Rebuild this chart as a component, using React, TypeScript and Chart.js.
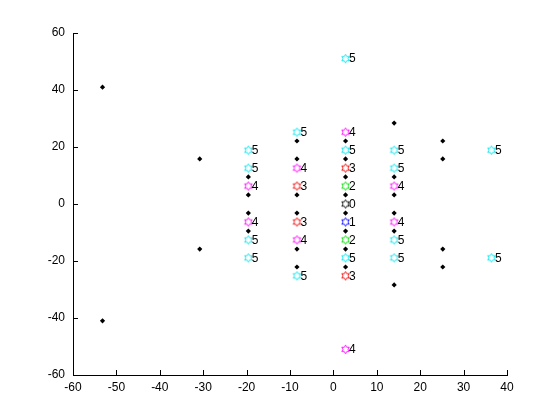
import React, { useEffect, useRef } from "react";
import { Chart, registerables } from "chart.js";

Chart.register(...registerables);

// Black dot markers
const dotX = [
  -53.2, -53.2,
  -30.8, -30.8,
  -19.6, -19.6, -19.6, -19.6,
  -8.4, -8.4, -8.4, -8.4, -8.4, -8.4,
  2.8, 2.8, 2.8, 2.8, 2.8, 2.8, 2.8, 2.8,
  14.0, 14.0, 14.0, 14.0, 14.0, 14.0,
  25.2, 25.2, 25.2, 25.2,
];
const dotY = [
  41, -41,
  15.8, -15.8,
  9.5, 3.2, -3.2, -9.5,
  22.1, 15.8, 3.2, -3.2, -15.8, -22.1,
  22.1, 15.8, 9.5, 3.2, -3.2, -9.5, -15.8, -22.1,
  28.4, 9.5, 3.2, -3.2, -9.5, -28.4,
  22.1, 15.8, -15.8, -22.1,
];

// Hexagram markers with their numeric labels
const starX = [
  -19.6, -19.6, -19.6, -19.6, -19.6, -19.6,
  -8.4, -8.4, -8.4, -8.4, -8.4, -8.4,
  2.8, 2.8, 2.8, 2.8, 2.8, 2.8, 2.8, 2.8, 2.8, 2.8, 2.8,
  14.0, 14.0, 14.0, 14.0, 14.0, 14.0,
  36.4, 36.4,
];
const starY = [
  18.9, 12.6, 6.3, -6.3, -12.6, -18.9,
  25.2, 12.6, 6.3, -6.3, -12.6, -25.2,
  51, 25.2, 18.9, 12.6, 6.3, 0, -6.3, -12.6, -18.9, -25.2, -51,
  18.9, 12.6, 6.3, -6.3, -12.6, -18.9,
  18.9, -18.9,
];
const starLabel = [
  5, 5, 4, 4, 5, 5,
  5, 4, 3, 3, 4, 5,
  5, 4, 5, 3, 2, 0, 1, 2, 5, 3, 4,
  5, 5, 4, 4, 5, 5,
  5, 5,
];

const labelColors = ["#000000", "#0000ff", "#00dd00", "#ee0000", "#ff00ff", "#00e5ee"];

const xTicks = [-60, -50, -40, -30, -20, -10, 0, 10, 20, 30, 40];
const yTicks = [-60, -40, -20, 0, 20, 40, 60];

function makeHexagram(color: string): HTMLCanvasElement {
  const c = document.createElement("canvas");
  const size = 11;
  c.width = size;
  c.height = size;
  const g = c.getContext("2d")!;
  const cx = size / 2;
  const cy = size / 2;
  const R = 4.3;
  const r = R / Math.sqrt(3);
  g.beginPath();
  for (let i = 0; i < 12; i++) {
    const a = -Math.PI / 2 + (i * Math.PI) / 6;
    const rad = i % 2 === 0 ? R : r;
    const px = cx + rad * Math.cos(a);
    const py = cy + rad * Math.sin(a);
    if (i === 0) g.moveTo(px, py);
    else g.lineTo(px, py);
  }
  g.closePath();
  g.strokeStyle = color;
  g.lineWidth = 0.9;
  g.stroke();
  return c;
}

const FONT = "'Liberation Sans', Arial, Helvetica, sans-serif";

export default function App() {
  const ref = useRef<HTMLCanvasElement | null>(null);

  useEffect(() => {
    if (!ref.current) return;
    const images = labelColors.map((c) => makeHexagram(c));

    const innerTicks = {
      id: "innerTicks",
      afterDraw(chart: any) {
        const { ctx, chartArea, scales } = chart;
        ctx.save();
        ctx.strokeStyle = "#000";
        ctx.lineWidth = 1;
        ctx.beginPath();
        xTicks.forEach((v) => {
          const px = Math.round(scales.x.getPixelForValue(v)) + 0.5;
          ctx.moveTo(px, chartArea.bottom);
          ctx.lineTo(px, chartArea.bottom - 5);
        });
        yTicks.forEach((v) => {
          const py = Math.round(scales.y.getPixelForValue(v)) + 0.5;
          ctx.moveTo(chartArea.left, py);
          ctx.lineTo(chartArea.left + 5, py);
        });
        ctx.stroke();
        ctx.restore();
      },
    };

    const starLabels = {
      id: "starLabels",
      afterDatasetsDraw(chart: any) {
        const meta = chart.getDatasetMeta(1);
        const { ctx } = chart;
        ctx.save();
        ctx.fillStyle = "#000";
        ctx.font = `12px ${FONT}`;
        ctx.textAlign = "left";
        ctx.textBaseline = "middle";
        meta.data.forEach((el: any, i: number) => {
          ctx.fillText(String(starLabel[i]), el.x + 3.5, el.y + 0.5);
        });
        ctx.restore();
      },
    };

    const chart = new Chart(ref.current, {
      type: "scatter",
      data: {
        datasets: [
          {
            data: dotX.map((x, i) => ({ x, y: dotY[i] })),
            pointStyle: "rectRot",
            pointRadius: 2.6,
            backgroundColor: "#000",
            borderColor: "#000",
            borderWidth: 0,
          },
          {
            data: starX.map((x, i) => ({ x, y: starY[i] })),
            pointStyle: (ctx: any) => images[starLabel[ctx.dataIndex]] as any,
            pointRadius: 5,
          },
        ],
      },
      options: {
        responsive: false,
        animation: false,
        events: [],
        layout: { padding: { left: 0, top: 33, right: 53, bottom: 0 } },
        plugins: {
          legend: { display: false },
          tooltip: { enabled: false },
        },
        scales: {
          x: {
            type: "linear",
            min: -60,
            max: 40,
            afterBuildTicks: (s: any) => {
              s.ticks = xTicks.map((v) => ({ value: v }));
            },
            afterFit: (s: any) => {
              s.height = 45;
            },
            grid: { display: false, drawTicks: false },
            border: { display: true, color: "#000", width: 1 },
            ticks: {
              color: "#000",
              padding: 5,
              maxRotation: 0,
              autoSkip: false,
              font: { family: FONT, size: 12 },
            },
          },
          y: {
            type: "linear",
            min: -60,
            max: 60,
            afterBuildTicks: (s: any) => {
              s.ticks = yTicks.map((v) => ({ value: v }));
            },
            afterFit: (s: any) => {
              s.width = 73;
            },
            grid: { display: false, drawTicks: false },
            border: { display: true, color: "#000", width: 1 },
            ticks: {
              color: "#000",
              padding: 8,
              autoSkip: false,
              font: { family: FONT, size: 12 },
            },
          },
        },
      },
      plugins: [innerTicks, starLabels],
    });

    return () => chart.destroy();
  }, []);

  return (
    <div style={{ position: "absolute", left: 0, top: 0, width: 560, height: 420, background: "#fff" }}>
      <canvas ref={ref} width={560} height={420} />
    </div>
  );
}
